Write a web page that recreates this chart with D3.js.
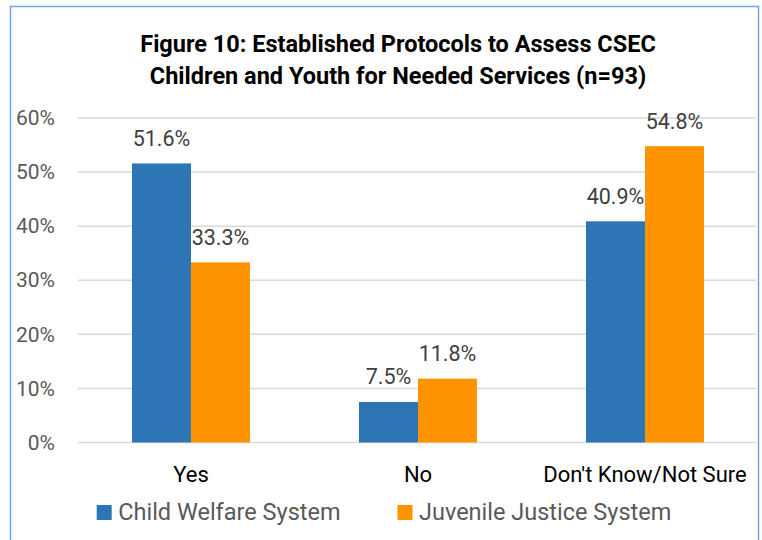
<!DOCTYPE html>
<html>
<head>
<meta charset="utf-8">
<script src="https://cdn.jsdelivr.net/npm/d3@7"></script>
<style>
  html, body { margin: 0; padding: 0; background: #fff; }
  svg { display: block; font-family: Roboto, "Liberation Sans", sans-serif; }
</style>
</head>
<body>
<svg id="chart" width="762" height="540"></svg>
<script>
const titleLines = ["Figure 10: Established Protocols to Assess CSEC", "Children and Youth for Needed Services (n=93)"];
const categories = ["Yes", "No", "Don't Know/Not Sure"];
const seriesNames = ["Child Welfare System", "Juvenile Justice System"];
const childWelfare = [51.6, 7.5, 40.9];
const juvenileJustice = [33.3, 11.8, 54.8];
const yTicks = [0, 10, 20, 30, 40, 50, 60];
const colors = ["#2E75B6", "#FF9300"];

const svg = d3.select("#chart");

// outer frame
svg.append("rect")
  .attr("x", 10.5).attr("y", 6.5)
  .attr("width", 748).attr("height", 560)
  .attr("fill", "none").attr("stroke", "#6FA8DC").attr("stroke-width", 1.5);

// title
svg.append("g").selectAll("text").data(titleLines).join("text")
  .attr("x", 398).attr("y", (d, i) => 52 + i * 32)
  .attr("text-anchor", "middle")
  .attr("font-weight", "bold").attr("font-size", 23.5).attr("fill", "#000")
  .text(d => d);

const x0 = d3.scaleBand().domain(categories).range([77.5, 758.5])
  .paddingInner(0.48).paddingOuter(0.24);
const x1 = d3.scaleBand().domain(seriesNames).range([0, x0.bandwidth()]);
const y = d3.scaleLinear().domain([0, 60]).range([442.5, 118]);

// gridlines
svg.append("g").selectAll("line").data(yTicks).join("line")
  .attr("x1", 78).attr("x2", 756)
  .attr("y1", d => y(d)).attr("y2", d => y(d))
  .attr("stroke", "#D9D9D9").attr("stroke-width", 1.5);

// y axis labels
const yAxis = d3.axisLeft(y).tickValues(yTicks).tickFormat(d => d + "%").tickSize(0).tickPadding(0);
const gy = svg.append("g").attr("transform", "translate(55,0)").call(yAxis);
gy.select(".domain").remove();
gy.selectAll("text").attr("font-size", 21).attr("fill", "#595959")
  .attr("font-family", "Roboto, 'Liberation Sans', sans-serif");

// x axis labels
const xAxis = d3.axisBottom(x0).tickSize(0).tickPadding(0);
const gx = svg.append("g").attr("transform", "translate(0,462)").call(xAxis);
gx.select(".domain").remove();
gx.selectAll("text").attr("font-size", 22).attr("fill", "#000")
  .attr("font-family", "Roboto, 'Liberation Sans', sans-serif")
  .attr("dy", 0).attr("y", 20);

// bars
const rows = categories.map((c, i) => ({cat: c, vals: [childWelfare[i], juvenileJustice[i]]}));
const groups = svg.append("g").selectAll("g").data(rows).join("g")
  .attr("transform", d => `translate(${x0(d.cat)},0)`);
groups.selectAll("rect").data(d => d.vals.map((v, j) => ({s: seriesNames[j], v, j}))).join("rect")
  .attr("x", d => x1(d.s)).attr("width", x1.bandwidth())
  .attr("y", d => y(d.v)).attr("height", d => y(0) - y(d.v))
  .attr("fill", d => colors[d.j]);
groups.selectAll("text").data(d => d.vals.map((v, j) => ({s: seriesNames[j], v, j}))).join("text")
  .attr("x", d => x1(d.s) + x1.bandwidth() / 2)
  .attr("y", d => y(d.v) - 17.5)
  .attr("text-anchor", "middle")
  .attr("font-size", 21.5).attr("fill", "#404040")
  .text(d => d.v.toFixed(1) + "%");

// legend
const legendX = [96.7, 397.5];
const lg = svg.append("g").selectAll("g").data(seriesNames).join("g")
  .attr("transform", (d, i) => `translate(${legendX[i]},505)`);
lg.append("rect").attr("width", 15).attr("height", 15).attr("fill", (d, i) => colors[i]);
lg.append("text").attr("x", 21.5).attr("y", 15)
  .attr("font-size", 23.5).attr("fill", "#595959").text(d => d);
</script>
</body>
</html>
